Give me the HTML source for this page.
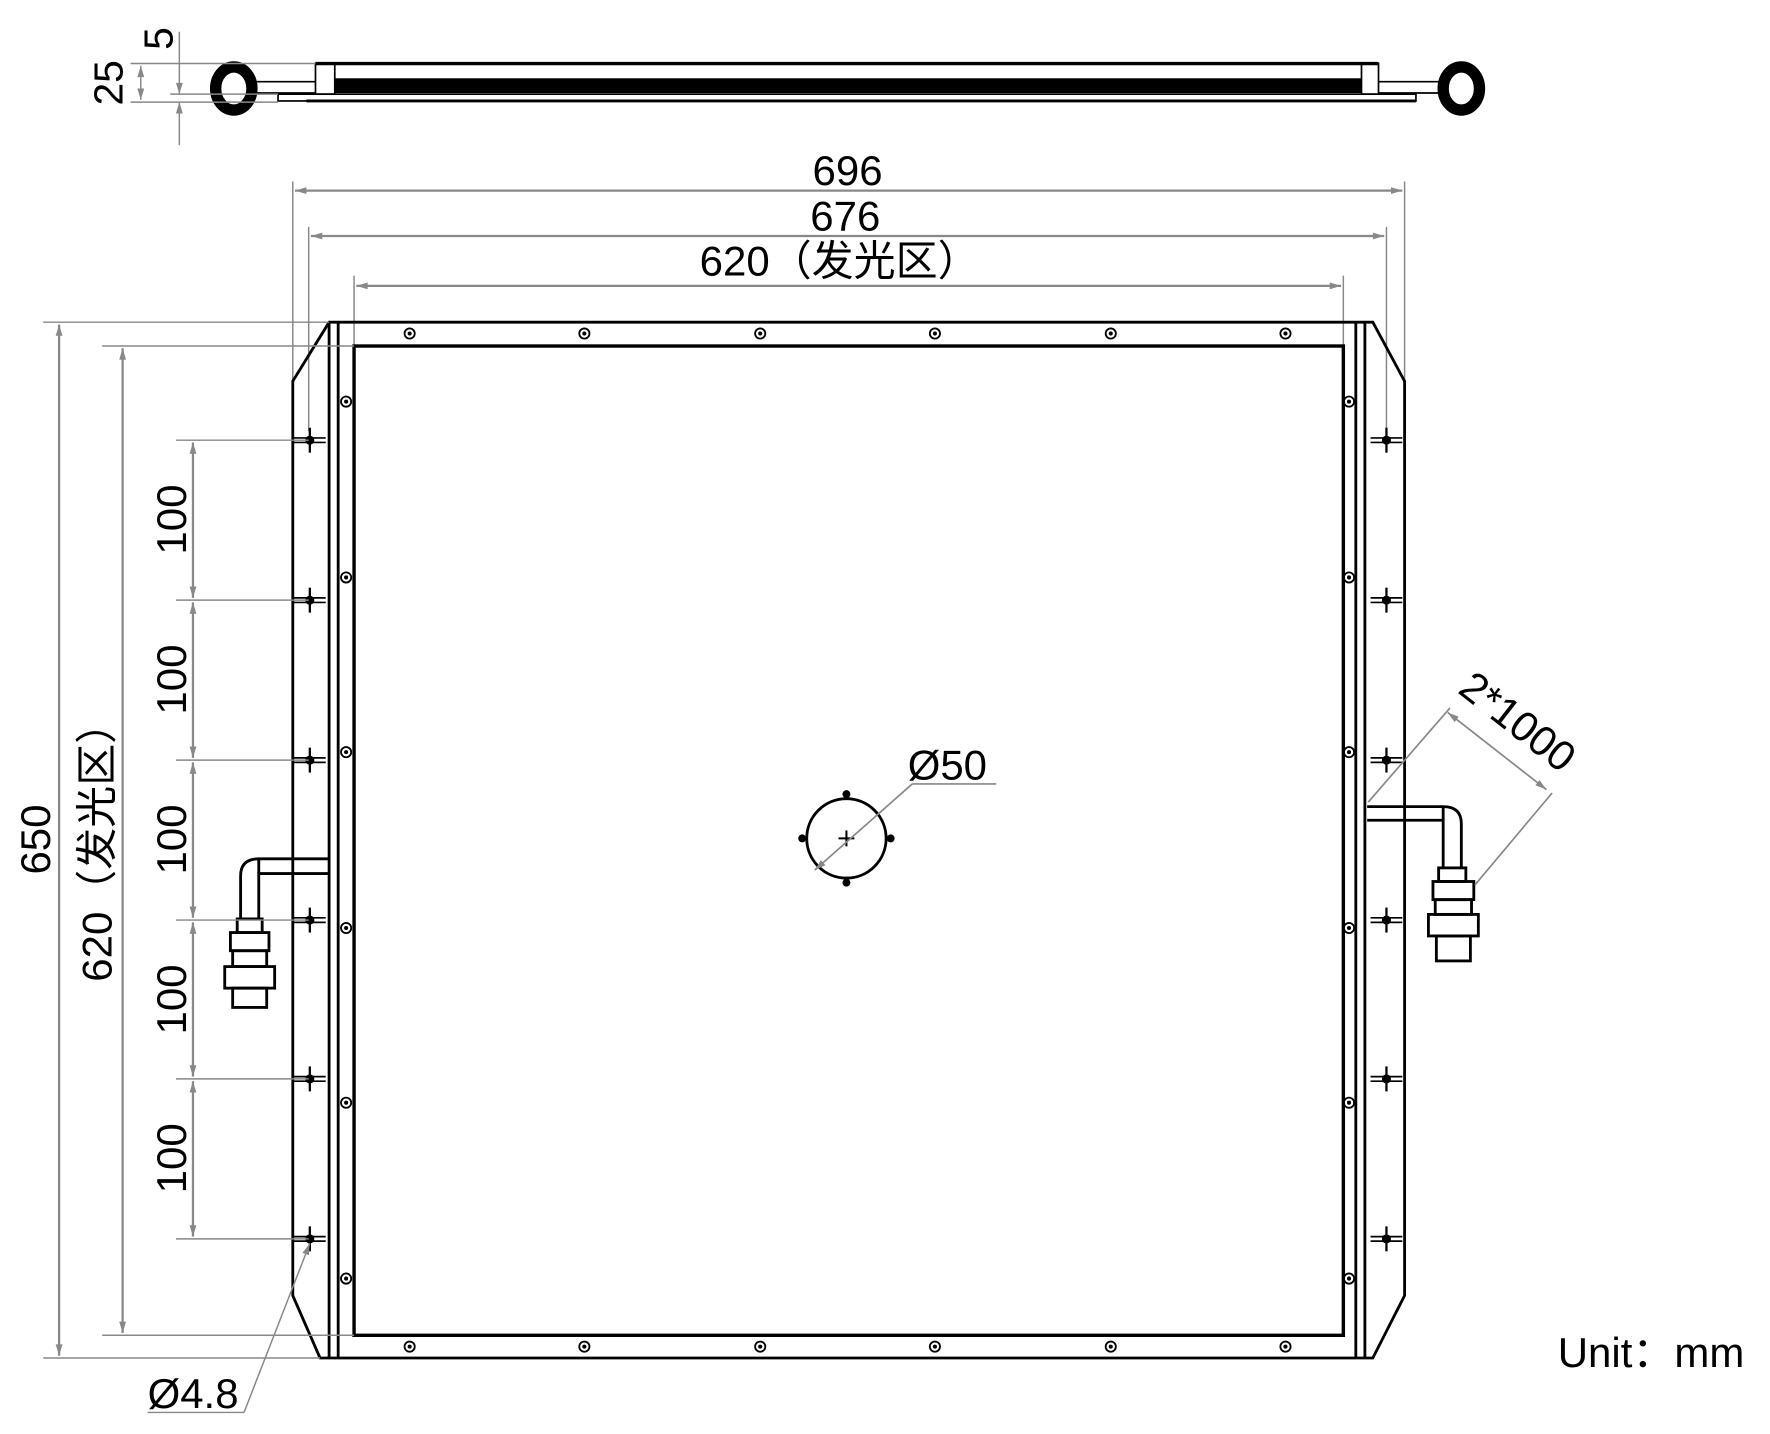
<!DOCTYPE html>
<html><head><meta charset="utf-8"><style>
html,body{margin:0;padding:0;background:#fff;}
svg{display:block;}
text{font-family:"Liberation Sans","Noto Sans CJK SC",sans-serif;fill:#000;}
</style></head><body>
<svg width="1770" height="1434" viewBox="0 0 1560 1264" xmlns="http://www.w3.org/2000/svg">
<defs>
<marker id="a" viewBox="0 0 10 6" refX="10" refY="3" markerWidth="14" markerHeight="6" markerUnits="userSpaceOnUse" orient="auto-start-reverse"><path d="M0,0 L10,3 L0,6 z" fill="#888"/></marker>
<g id="scr"><circle r="4.5" fill="none" stroke="#000" stroke-width="1.6"/><circle r="1.8" fill="#000"/></g>
<g id="crs"><line x1="-14" y1="-2" x2="14" y2="-2" stroke="#000" stroke-width="1.5"/><line x1="-14" y1="2" x2="14" y2="2" stroke="#000" stroke-width="1.5"/><line x1="0" y1="-11" x2="0" y2="11" stroke="#000" stroke-width="2"/><circle r="4" fill="#000"/></g>
</defs>

<!-- side view -->
<g stroke="#000" fill="none">
<line x1="278" y1="56" x2="1215" y2="56" stroke-width="3"/>
<rect x="278" y="56" width="17" height="27" stroke-width="1.5"/>
<rect x="1200" y="56" width="15" height="27" stroke-width="1.5"/>
<rect x="295" y="69" width="905" height="13" fill="#000" stroke="none"/>
<rect x="245" y="83" width="1003" height="6" stroke-width="1.5"/>
<line x1="270" y1="89" x2="1248" y2="89" stroke-width="2.5"/>
<line x1="225" y1="72" x2="278" y2="72" stroke-width="1.5"/>
<line x1="225" y1="82" x2="278" y2="82" stroke-width="1.5"/>
<line x1="1215" y1="72" x2="1270" y2="72" stroke-width="1.5"/>
<line x1="1215" y1="82" x2="1270" y2="82" stroke-width="1.5"/>
<ellipse cx="206" cy="78" rx="16" ry="19" stroke-width="10"/>
<ellipse cx="1288" cy="78" rx="16" ry="19" stroke-width="10"/>
</g>
<g stroke="#888" stroke-width="1.3" fill="none">
<line x1="115" y1="56" x2="278" y2="56"/>
<line x1="115" y1="90" x2="245" y2="90"/>
<line x1="150" y1="83" x2="245" y2="83"/>
<line x1="124" y1="58" x2="124" y2="88" marker-start="url(#a)" marker-end="url(#a)"/>
<line x1="158" y1="28" x2="158" y2="83" marker-end="url(#a)"/>
<line x1="158" y1="128" x2="158" y2="90" marker-end="url(#a)"/>
</g>
<text transform="translate(152,34) rotate(-90)" font-size="36" text-anchor="middle">5</text>
<text transform="translate(108,73) rotate(-90)" font-size="36" text-anchor="middle">25</text>

<!-- top dims -->
<g stroke="#888" stroke-width="1.3" fill="none">
<line x1="258" y1="160" x2="258" y2="340"/>
<line x1="1238" y1="160" x2="1238" y2="340"/>
<line x1="272" y1="200" x2="272" y2="380"/>
<line x1="1222" y1="200" x2="1222" y2="380"/>
<line x1="312" y1="243" x2="312" y2="305"/>
<line x1="1184" y1="243" x2="1184" y2="305"/>
<line x1="260" y1="168" x2="1236" y2="168" marker-start="url(#a)" marker-end="url(#a)" stroke-width="2"/>
<line x1="274" y1="208" x2="1220" y2="208" marker-start="url(#a)" marker-end="url(#a)" stroke-width="2"/>
<line x1="314" y1="252" x2="1182" y2="252" marker-start="url(#a)" marker-end="url(#a)" stroke-width="2"/>
</g>
<text x="747" y="163" font-size="37" text-anchor="middle">696</text>
<text x="745" y="203" font-size="37" text-anchor="middle">676</text>
<text x="740" y="243" font-size="37" text-anchor="middle">620（发光区）</text>

<!-- main frame -->
<g stroke="#000" fill="none">
<path d="M290,284 L1210,284 L1238,336 L1238,1142 L1210,1197 L282,1197 L258,1142 L258,336 Z" stroke-width="2.5"/>
<line x1="290" y1="284" x2="290" y2="1197" stroke-width="2.5"/>
<line x1="298" y1="284" x2="298" y2="1197" stroke-width="2.5"/>
<line x1="1195" y1="284" x2="1195" y2="1197" stroke-width="2.5"/>
<line x1="1203" y1="284" x2="1203" y2="1197" stroke-width="2.5"/>
<rect x="312" y="305" width="872" height="872" stroke-width="3"/>
<circle cx="746" cy="739" r="35" stroke-width="2.5"/>
<line x1="739" y1="739" x2="753" y2="739" stroke-width="1.8"/>
<line x1="746" y1="732" x2="746" y2="746" stroke-width="1.8"/>
</g>
<g fill="#000">
<circle cx="746" cy="700" r="3.5"/><circle cx="746" cy="778" r="3.5"/><circle cx="707" cy="739" r="3.5"/><circle cx="785" cy="739" r="3.5"/>
</g>
<g>
<use href="#scr" x="361" y="294"/><use href="#scr" x="515" y="294"/><use href="#scr" x="670" y="294"/><use href="#scr" x="824" y="294"/><use href="#scr" x="979" y="294"/><use href="#scr" x="1133" y="294"/>
<use href="#scr" x="361" y="1187"/><use href="#scr" x="515" y="1187"/><use href="#scr" x="670" y="1187"/><use href="#scr" x="824" y="1187"/><use href="#scr" x="979" y="1187"/><use href="#scr" x="1133" y="1187"/>
<use href="#scr" x="305" y="354"/><use href="#scr" x="305" y="509"/><use href="#scr" x="305" y="663"/><use href="#scr" x="305" y="818"/><use href="#scr" x="305" y="972"/><use href="#scr" x="305" y="1127"/>
<use href="#scr" x="1189" y="354"/><use href="#scr" x="1189" y="509"/><use href="#scr" x="1189" y="663"/><use href="#scr" x="1189" y="818"/><use href="#scr" x="1189" y="972"/><use href="#scr" x="1189" y="1127"/>
<use href="#crs" x="273" y="388"/><use href="#crs" x="273" y="529"/><use href="#crs" x="273" y="670"/><use href="#crs" x="273" y="811"/><use href="#crs" x="273" y="951"/><use href="#crs" x="273" y="1092"/>
<use href="#crs" x="1222" y="388"/><use href="#crs" x="1222" y="529"/><use href="#crs" x="1222" y="670"/><use href="#crs" x="1222" y="811"/><use href="#crs" x="1222" y="951"/><use href="#crs" x="1222" y="1092"/>
</g>

<!-- left connector -->
<g stroke="#000" stroke-width="2.5" fill="none">
<path d="M290,757 L228,757 Q212,757 212,772 L212,810"/>
<path d="M290,770 L228,770 L228,810"/>
<line x1="228" y1="757" x2="228" y2="770"/>
<rect x="209" y="810" width="22" height="12"/>
<rect x="203" y="822" width="34" height="16"/>
<rect x="205" y="838" width="30" height="14"/>
<rect x="198" y="852" width="44" height="19"/>
<rect x="205" y="871" width="30" height="17"/>
</g>
<!-- right connector -->
<g stroke="#000" stroke-width="2.5" fill="none">
<path d="M1205,711 L1272,711 Q1288,711 1288,726 L1288,765"/>
<path d="M1205,723 L1272,723 L1272,765"/>
<line x1="1272" y1="711" x2="1272" y2="723"/>
<rect x="1268" y="765" width="24" height="12"/>
<rect x="1263" y="777" width="36" height="16"/>
<rect x="1265" y="793" width="32" height="13"/>
<rect x="1259" y="806" width="44" height="19"/>
<rect x="1266" y="825" width="30" height="22"/>
</g>

<!-- Ø50 leader -->
<g stroke="#888" stroke-width="1.5" fill="none">
<line x1="804" y1="691" x2="718" y2="767" marker-end="url(#a)"/>
<line x1="804" y1="691" x2="878" y2="691"/>
</g>
<text x="800" y="687" font-size="37">Ø50</text>

<!-- 2*1000 -->
<g stroke="#888" stroke-width="1.5" fill="none">
<line x1="1206" y1="707" x2="1278" y2="624"/>
<line x1="1300" y1="780" x2="1368" y2="699"/>
<line x1="1276" y1="628" x2="1363" y2="696" marker-start="url(#a)" marker-end="url(#a)"/>
</g>
<text transform="translate(1330,646) rotate(38)" font-size="37" text-anchor="middle">2*1000</text>

<!-- left dims -->
<g stroke="#888" stroke-width="1.3" fill="none">
<line x1="38" y1="284" x2="290" y2="284"/>
<line x1="38" y1="1197" x2="282" y2="1197"/>
<line x1="90" y1="305" x2="312" y2="305"/>
<line x1="90" y1="1177" x2="312" y2="1177"/>
<line x1="52" y1="286" x2="52" y2="1195" marker-start="url(#a)" marker-end="url(#a)" stroke-width="2"/>
<line x1="108" y1="307" x2="108" y2="1175" marker-start="url(#a)" marker-end="url(#a)" stroke-width="2"/>
<line x1="155" y1="388" x2="272" y2="388"/>
<line x1="155" y1="529" x2="272" y2="529"/>
<line x1="155" y1="670" x2="272" y2="670"/>
<line x1="155" y1="811" x2="272" y2="811"/>
<line x1="155" y1="951" x2="272" y2="951"/>
<line x1="155" y1="1092" x2="272" y2="1092"/>
<line x1="170" y1="390" x2="170" y2="527" marker-start="url(#a)" marker-end="url(#a)" stroke-width="2"/>
<line x1="170" y1="531" x2="170" y2="668" marker-start="url(#a)" marker-end="url(#a)" stroke-width="2"/>
<line x1="170" y1="672" x2="170" y2="809" marker-start="url(#a)" marker-end="url(#a)" stroke-width="2"/>
<line x1="170" y1="813" x2="170" y2="949" marker-start="url(#a)" marker-end="url(#a)" stroke-width="2"/>
<line x1="170" y1="953" x2="170" y2="1090" marker-start="url(#a)" marker-end="url(#a)" stroke-width="2"/>
<line x1="273" y1="1096" x2="215" y2="1245" marker-start="url(#a)"/>
<line x1="215" y1="1245" x2="130" y2="1245"/>
</g>
<text transform="translate(44,740) rotate(-90)" font-size="37" text-anchor="middle">650</text>
<text transform="translate(98,742) rotate(-90)" font-size="37" text-anchor="middle">620（发光区）</text>
<text transform="translate(164,458) rotate(-90)" font-size="37" text-anchor="middle">100</text>
<text transform="translate(164,599) rotate(-90)" font-size="37" text-anchor="middle">100</text>
<text transform="translate(164,740) rotate(-90)" font-size="37" text-anchor="middle">100</text>
<text transform="translate(164,881) rotate(-90)" font-size="37" text-anchor="middle">100</text>
<text transform="translate(164,1021) rotate(-90)" font-size="37" text-anchor="middle">100</text>
<text x="130" y="1241" font-size="37">Ø4.8</text>

<text x="1373" y="1205" font-size="37">Unit：mm</text>
</svg>
</body></html>
